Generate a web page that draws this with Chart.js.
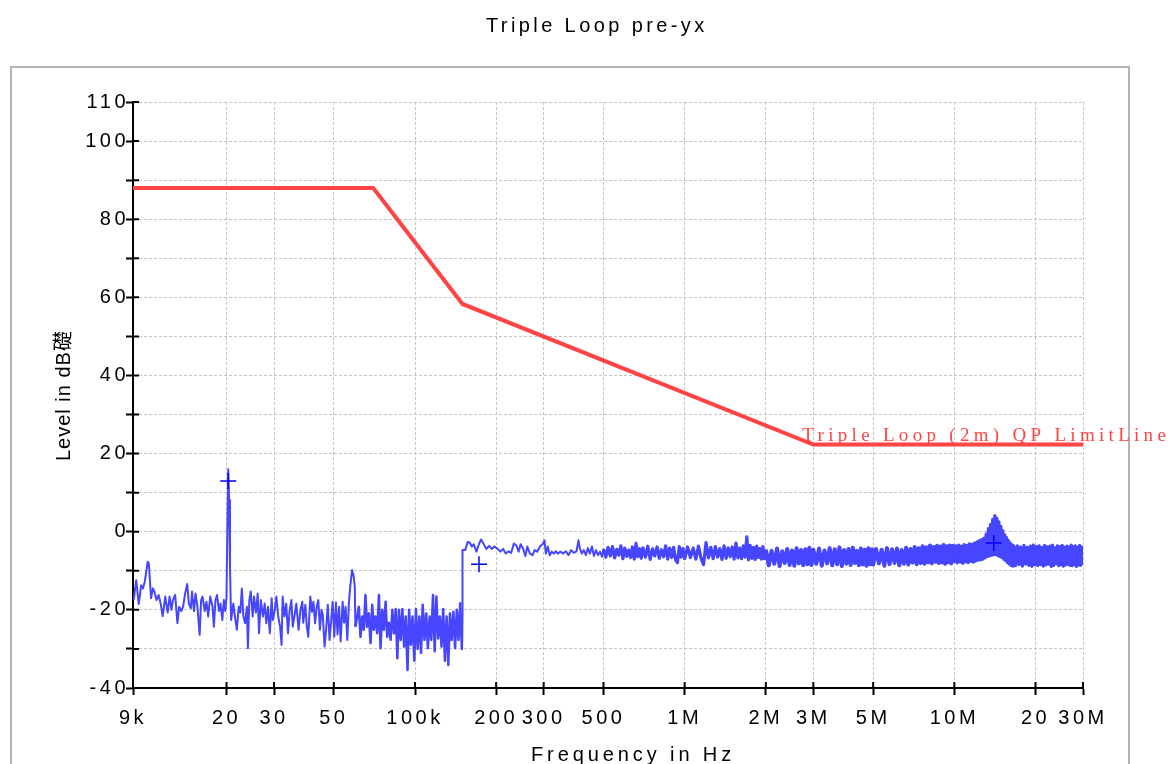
<!DOCTYPE html>
<html><head><meta charset="utf-8">
<script src="https://cdn.jsdelivr.net/npm/chart.js@4.4.0/dist/chart.umd.min.js"></script>
<style>html,body{margin:0;padding:0;background:#fff;}#wrap{width:1171px;height:764px;position:relative;}</style>
</head><body><div id="wrap"><canvas id="c"></canvas></div>
<script>
const chartTitle = 'Triple Loop pre-yx';
const xAxisTitle = 'Frequency in Hz';
const yAxisTitle = 'Level in dB礎';
const limitLabel = 'Triple Loop (2m) QP LimitLine';

const xTickValues = [9, 20, 30, 50, 100, 200, 300, 500, 1000, 2000, 3000, 5000, 10000, 20000, 30000];
const xTickLabels = ['9k', '20', '30', '50', '100k', '200', '300', '500', '1M', '2M', '3M', '5M', '10M', '20', '30M'];
const yTickValues = [-40, -30, -20, -10, 0, 10, 20, 30, 40, 50, 60, 70, 80, 90, 100, 110];
const yTickLabels = ['-40', '', '-20', '', '0', '', '20', '', '40', '', '60', '', '80', '', '100', '110'];

// limit line (frequency in kHz, level in dB)
const limitFreqKHz = [9, 70, 150, 3000, 30000];
const limitLevel = [88, 88, 58.3, 22.3, 22.3];

// peak markers
const markerFreqKHz = [20.3, 172.7, 14000];
const markerLevel = [13.0, -8.3, -2.9];

// measured trace, [kHz, dB]
const trace9kTo150k = [
[9.05,-17.5],[9.25,-12.4],[9.45,-18.5],[9.65,-13.7],[9.8,-14.5],[9.95,-12.8],[10.2,-7.7],[10.3,-8.0],[10.5,-17.0],[10.67,-14.5],
[10.8,-15.3],[11.0,-17.5],[11.2,-16.2],[11.4,-18.4],[11.6,-21.6],[11.85,-16.6],[12.1,-20.7],[12.3,-16.6],[12.5,-20.0],[12.66,-17.5],
[12.9,-16.2],[13.15,-23.4],[13.35,-19.2],[13.6,-20.3],[13.8,-19.2],[14.05,-15.8],[14.3,-13.4],[14.5,-18.4],[14.75,-19.6],[14.9,-15.3],
[15.15,-20.3],[15.35,-15.8],[15.6,-19.2],[15.9,-26.4],[16.1,-17.5],[16.3,-16.6],[16.6,-20.3],[16.85,-17.9],[17.1,-21.7],[17.4,-16.6],
[17.75,-19.2],[17.95,-24.3],[18.2,-17.5],[18.45,-16.2],[18.75,-20.3],[19.0,-18.4],[19.3,-22.6],[19.55,-17.5],[19.8,-20.3],[20.0,-16.6],
[20.15,1.3],[20.3,16.0],[20.45,8.1],[20.6,-9.0],[20.8,-22.6],[21.2,-18.4],[21.5,-21.7],[21.85,-25.1],[22.2,-19.2],[22.5,-20.7],
[22.8,-14.5],[23.1,-21.7],[23.45,-23.4],[23.8,-19.2],[24.0,-29.8],[24.3,-17.5],[24.6,-15.3],[25.0,-21.7],[25.3,-16.6],[25.7,-20.7],
[26.1,-15.8],[26.4,-26.0],[26.8,-17.5],[27.3,-21.7],[27.7,-18.4],[28.1,-23.4],[28.5,-19.2],[28.95,-26.0],[29.4,-17.0],[29.7,-22.6],
[30.2,-20.0],[30.6,-16.6],[31.1,-21.7],[31.6,-24.3],[32.0,-29.0],[32.3,-16.6],[32.8,-21.7],[33.3,-18.4],[33.8,-26.0],[34.3,-20.0],
[34.8,-17.5],[35.2,-24.3],[35.7,-21.7],[36.3,-18.4],[37.0,-25.1],[37.6,-20.0],[38.2,-17.9],[38.5,-23.3],[39.2,-18.7],[39.7,-24.3],
[40.2,-26.9],[40.9,-16.6],[41.5,-20.5],[42.0,-17.9],[42.6,-23.4],[43.2,-19.2],[43.8,-17.5],[44.4,-25.1],[45.0,-20.0],[45.5,-21.3],
[46.2,-29.4],[46.8,-25.1],[47.5,-18.7],[48.2,-27.7],[48.8,-23.3],[49.5,-17.9],[50.2,-26.9],[50.9,-18.1],[51.6,-26.3],[52.3,-19.2],
[53.0,-28.1],[53.9,-17.9],[54.6,-23.3],[55.3,-19.2],[56.1,-27.7],[56.9,-17.9],[57.6,-13.6],[58.4,-9.8],[59.1,-11.0],[59.8,-14.0],
[60.1,-24.3],[61.0,-21.7],[61.9,-19.2],[62.8,-26.9],[63.7,-21.7],[64.6,-25.1],[65.5,-16.2],[66.4,-24.3],[67.4,-20.9],[68.4,-28.5],
[69.4,-18.7],[70.3,-25.1],[71.3,-21.7],[72.4,-26.0],[73.5,-16.2],[74.5,-29.8],[75.6,-20.0],[76.7,-25.1],[77.8,-17.9],[78.9,-26.9],
[80.0,-23.3],[81.2,-27.7],[82.4,-20.0],[83.6,-26.0],[84.8,-19.8],[86.0,-32.4],[87.2,-20.0],[88.5,-27.7],[89.8,-19.8],[91.1,-29.4],
[92.4,-21.7],[93.8,-35.4],[95.1,-20.0],[96.5,-28.9],[97.9,-21.7],[99.4,-33.0],[100.8,-19.8],[102.3,-30.0],[103.8,-21.7],[105.3,-31.0],
[106.8,-18.7],[108.4,-27.7],[110,-20.9],[111.6,-29.8],[113.3,-21.7],[114.9,-27.7],[116.6,-16.2],[118.3,-30.6],[120,-16.6],[121.8,-27.3],
[123.6,-21.7],[125.4,-29.4],[127.2,-19.8],[129.1,-33.0],[131,-21.7],[132.9,-34.1],[134.8,-20.9],[136.8,-27.7],[138.8,-20.5],[140.8,-29.8],
[142.9,-20.0],[145,-27.7],[147.1,-18.3],[149.2,-30.0],[149.7,-21.0]
];
const trace150kTo500k = [
[150.0,-4.7],[153.5,-4.7],[156.9,-2.6],[159.6,-2.8],[162.4,-3.8],[165.2,-3.2],[169,-5.1],[172.9,-3.0],[175.9,-2.0],[179.9,-3.2],
[184,-4.4],[188.3,-3.6],[192.5,-4.4],[197,-3.8],[202.7,-4.4],[207.4,-5.1],[212.2,-4.4],[217.1,-5.6],[222.1,-5.0],[227.3,-5.4],
[232.6,-3.0],[238,-3.6],[242.2,-5.1],[246.4,-3.2],[251.3,-4.2],[256.5,-6.2],[261,-3.8],[266.8,-5.6],[272.9,-6.0],[277.6,-4.7],
[284,-5.1],[290.6,-3.8],[297.3,-3.2],[302.2,-2.2],[305.4,-5.6],[310.6,-3.8],[316,-6.0],[321.5,-5.1],[327.1,-5.6],[332.8,-5.0],
[338.6,-5.6],[346.4,-5.1],[354.4,-5.6],[362.5,-5.0],[370.8,-6.0],[379.3,-4.7],[388,-5.4],[397,-5.0],[403.9,-2.2],[408.5,-4.2],
[415.6,-5.6],[422.8,-4.7],[430.2,-6.0],[437.6,-4.2],[445.2,-5.6],[453,-3.8],[460.8,-6.2],[468.8,-4.7],[477,-6.0],[485.3,-5.1],
[493.7,-6.4]
];
const trace500kTo2M = [
[500,-4.4],[510,-6.5],[520,-4.0],[530,-6.2],[540,-3.8],[550,-6.7],[560,-4.5],[570,-6.0],[580,-3.6],[590,-6.9],
[600,-4.2],[610,-6.3],[620,-4.7],[630,-6.6],[640,-3.9],[650,-7.0],[660,-3.0],[670,-6.4],[680,-4.3],[690,-6.8],
[700,-4.1],[715,-6.5],[730,-3.7],[745,-7.1],[760,-4.4],[775,-6.2],[790,-3.9],[805,-6.8],[820,-4.6],[835,-6.4],
[850,-3.6],[865,-7.0],[880,-4.2],[895,-6.6],[910,-4.0],[925,-7.2],[940,-7.9],[955,-3.8],[970,-6.5],[985,-4.3],
[1000,-6.9],[1025,-3.9],[1050,-6.6],[1075,-4.2],[1100,-7.0],[1125,-3.7],[1150,-6.8],[1175,-8.4],[1200,-2.8],[1225,-6.7],
[1250,-4.0],[1275,-6.9],[1300,-3.8],[1325,-6.5],[1350,-4.3],[1375,-7.1],[1400,-3.6],[1425,-6.8],[1450,-4.1],[1475,-6.4],
[1500,-3.9],[1525,-7.0],[1550,-2.9],[1575,-6.7],[1600,-4.2],[1625,-6.9],[1650,-3.6],[1675,-6.5],[1700,-1.3],[1725,-7.2],
[1750,-3.5],[1775,-6.8],[1800,-4.0],[1825,-7.1],[1850,-3.7],[1875,-6.6],[1900,-4.3],[1925,-7.0],[1950,-3.8],[1975,-6.9]
];
const trace2MTo10M = [
[2000,-4.6],[2050,-8.6],[2100,-4.9],[2150,-8.2],[2200,-4.3],[2250,-8.8],[2300,-5.0],[2350,-8.0],[2400,-4.4],[2450,-8.5],
[2500,-4.8],[2550,-8.7],[2600,-4.2],[2650,-8.1],[2700,-4.7],[2750,-8.6],[2800,-4.5],[2850,-8.3],[2900,-4.1],[2950,-8.5],
[3000,-4.6],[3075,-8.2],[3150,-4.3],[3225,-8.7],[3300,-4.8],[3375,-8.1],[3450,-4.2],[3525,-8.6],[3600,-4.5],[3675,-8.3],
[3750,-4.0],[3825,-8.8],[3900,-4.7],[3975,-8.2],[4050,-4.4],[4125,-8.5],[4200,-4.1],[4275,-8.0],[4350,-4.9],[4425,-8.6],
[4500,-4.3],[4575,-8.4],[4650,-4.6],[4725,-8.7],[4800,-4.2],[4875,-8.3],[4950,-4.5],
[5000,-8.4],[5125,-4.4],[5250,-8.1],[5375,-4.6],[5500,-8.7],[5625,-4.2],[5750,-8.3],[5875,-4.5],[6000,-8.0],[6125,-4.3],
[6250,-8.6],[6375,-4.7],[6500,-8.2],[6625,-4.1],[6750,-8.4],[6875,-4.4],[7000,-7.9],[7125,-3.9],[7250,-8.3],[7375,-4.2],
[7500,-8.0],[7625,-3.7],[7750,-8.2],[7875,-4.0],[8000,-7.8],[8125,-3.5],[8250,-8.1],[8375,-3.9],[8500,-7.7],[8625,-3.6],
[8750,-8.0],[8875,-3.8],[9000,-7.9],[9125,-3.4],[9250,-8.2],[9375,-3.7],[9500,-7.8],[9625,-3.5],[9750,-8.1],[9875,-3.6]
];
const trace10MTo30M = [
[10000,-7.9],[10125,-3.6],[10250,-8.0],[10375,-3.4],[10500,-7.8],[10625,-3.7],[10750,-8.1],[10875,-3.3],[11000,-7.7],[11125,-3.5],
[11250,-7.9],[11375,-3.1],[11500,-7.6],[11625,-3.2],[11750,-7.8],[11875,-2.9],[12000,-7.5],[12125,-2.6],[12250,-7.3],[12375,-2.3],
[12500,-7.2],[12625,-2.0],[12750,-7.0],[12875,-1.6],[13000,-6.7],[13125,-0.6],[13250,-6.4],[13375,0.8],[13500,-6.2],[13625,1.9],
[13750,-6.0],[13875,3.2],[14000,-5.9],[14125,4.1],[14250,-5.8],[14375,3.5],[14500,-6.1],[14625,2.5],[14750,-6.3],[14875,1.4],
[15000,-6.6],[15125,0.3],[15250,-7.0],[15375,-0.8],[15500,-7.4],[15625,-1.5],[15750,-7.9],[15875,-2.3],[16000,-8.3],[16125,-2.9],
[16250,-8.6],[16375,-3.4],[16500,-8.8],[16625,-3.7],
[16875,-8.7],[17125,-3.6],[17375,-8.4],[17625,-3.9],[17875,-8.8],[18125,-3.5],[18375,-8.3],[18625,-4.0],[18875,-8.6],[19125,-3.7],
[19375,-8.9],[19625,-3.4],[19875,-8.5],
[20125,-3.8],[20375,-8.7],[20625,-3.6],[20875,-8.4],[21125,-4.0],[21375,-8.8],[21625,-3.5],[21875,-8.5],[22125,-3.9],[22375,-8.3],
[22625,-3.7],[22875,-8.9],[23125,-3.4],[23375,-8.6],[23625,-4.1],[23875,-8.2],[24125,-3.6],[24375,-8.7],[24625,-3.8],[24875,-8.4],
[25125,-3.5],[25375,-8.8],[25625,-4.0],[25875,-8.5],[26125,-3.7],[26375,-8.3],[26625,-3.9],[26875,-8.6],[27125,-3.4],[27375,-8.7],
[27625,-3.8],[27875,-8.4],[28125,-3.6],[28375,-8.9],[28625,-4.0],[28875,-8.5],[29125,-3.5],[29375,-8.6],[29625,-3.9],[29875,-8.2],
[30000,-5.0]
];

const FONT = "'Liberation Sans', Arial, sans-serif";
const toXY = arr => arr.map(p => ({x: p[0], y: p[1]}));
const traceData = [].concat(toXY(trace9kTo150k), toXY(trace150kTo500k), toXY(trace500kTo2M), toXY(trace2MTo10M), toXY(trace10MTo30M));
const limitData = limitFreqKHz.map((f, i) => ({x: f, y: limitLevel[i]}));
const markerData = markerFreqKHz.map((f, i) => ({x: f, y: markerLevel[i]}));

const decor = {
  id: 'decor',
  beforeUpdate(chart) { chart.ctx.letterSpacing = '3.5px'; },
  beforeLayout(chart) { chart.ctx.letterSpacing = '3.5px'; },
  beforeDraw(chart) {
    const ctx = chart.ctx;
    ctx.save();
    ctx.strokeStyle = '#b4b4b4';
    ctx.lineWidth = 2;
    ctx.beginPath();
    ctx.moveTo(11, 780); ctx.lineTo(11, 67); ctx.lineTo(1129, 67); ctx.lineTo(1129, 780);
    ctx.stroke();
    ctx.restore();
    ctx.letterSpacing = '3.5px';
  },
  afterDraw(chart) {
    const {ctx, chartArea} = chart;
    const xs = chart.scales.x, ys = chart.scales.y;
    ctx.save();
    ctx.strokeStyle = '#000';
    ctx.lineWidth = 2;
    ctx.beginPath();
    ys.ticks.forEach(t => { const py = ys.getPixelForValue(t.value); ctx.moveTo(chartArea.left, py); ctx.lineTo(chartArea.left + 6, py); });
    xs.ticks.forEach(t => { const px = xs.getPixelForValue(t.value); ctx.moveTo(px, chartArea.bottom); ctx.lineTo(px, chartArea.bottom - 6); });
    ctx.stroke();

    ctx.fillStyle = '#000';
    ctx.textAlign = 'left';
    ctx.textBaseline = 'alphabetic';
    ctx.font = '20px ' + FONT;
    ctx.letterSpacing = '3.4px';
    ctx.fillText(chartTitle, 486, 32);
    ctx.letterSpacing = '3.9px';
    ctx.fillText(xAxisTitle, 531, 761);

    ctx.save();
    ctx.translate(70, 461);
    ctx.rotate(-Math.PI / 2);
    ctx.letterSpacing = '1px';
    ctx.font = "20px 'Liberation Sans', 'Noto Sans CJK JP', sans-serif";
    ctx.fillText(yAxisTitle, 0, 0);
    ctx.restore();

    ctx.font = "19px 'Liberation Serif', serif";
    ctx.letterSpacing = '4.3px';
    ctx.fillStyle = '#ff4545';
    ctx.fillText(limitLabel, xs.getPixelForValue(limitFreqKHz[3]) - 11, ys.getPixelForValue(limitLevel[3]) - 4);
    ctx.restore();
  }
};

const axisCommon = {
  grid: {color: '#c4c4c4', lineWidth: 1, tickLength: 7, tickColor: '#000', tickWidth: 2, drawTicks: true},
  border: {display: true, color: '#000', width: 2, dash: [3, 2]}
};

const traceWidth = c => {
  const f = c.p0.parsed.x;
  if (f >= 2000 && f < 10000) return 4;
  if (f >= 500) return 3.2;
  if (f >= 60 && f < 149.7) return 2.5;
  return 2;
};

new Chart(document.getElementById('c').getContext('2d'), {
  type: 'line',
  data: {
    datasets: [
      {label: 'Limit', data: limitData, borderColor: '#ff4444', borderWidth: 4, pointRadius: 0, tension: 0, order: 2},
      {label: 'Trace', data: traceData, borderColor: '#4646ff', borderWidth: 2, borderJoinStyle: 'round', pointRadius: 0, tension: 0, order: 1,
       segment: {borderWidth: traceWidth}},
      {label: 'Markers', data: markerData, showLine: false, pointStyle: 'cross', pointRadius: 8, pointBorderColor: '#0000ff', pointBorderWidth: 1.5, borderColor: '#0000ff', order: 0}
    ]
  },
  options: {
    responsive: true,
    maintainAspectRatio: false,
    animation: false,
    layout: {padding: {left: 0, right: 88, top: 102, bottom: 0}},
    plugins: {legend: {display: false}, title: {display: false}, tooltip: {enabled: false}},
    scales: {
      x: Object.assign({
        type: 'logarithmic', min: 9, max: 30000, position: 'bottom',
        afterBuildTicks: s => { s.ticks = xTickValues.map(v => ({value: v})); },
        afterFit: s => { s.height = 76; },
        ticks: {autoSkip: false, maxRotation: 0, minRotation: 0, padding: 11, color: '#000', font: {family: FONT, size: 20},
                callback: (v, i) => xTickLabels[i]}
      }, axisCommon),
      y: Object.assign({
        type: 'linear', min: -40, max: 110,
        afterBuildTicks: s => { s.ticks = yTickValues.map(v => ({value: v})); },
        afterFit: s => { s.width = 133; },
        ticks: {autoSkip: false, padding: -3, color: '#000', font: {family: FONT, size: 20},
                callback: (v, i) => yTickLabels[i]}
      }, axisCommon)
    }
  },
  plugins: [decor]
});
</script>
</body></html>
